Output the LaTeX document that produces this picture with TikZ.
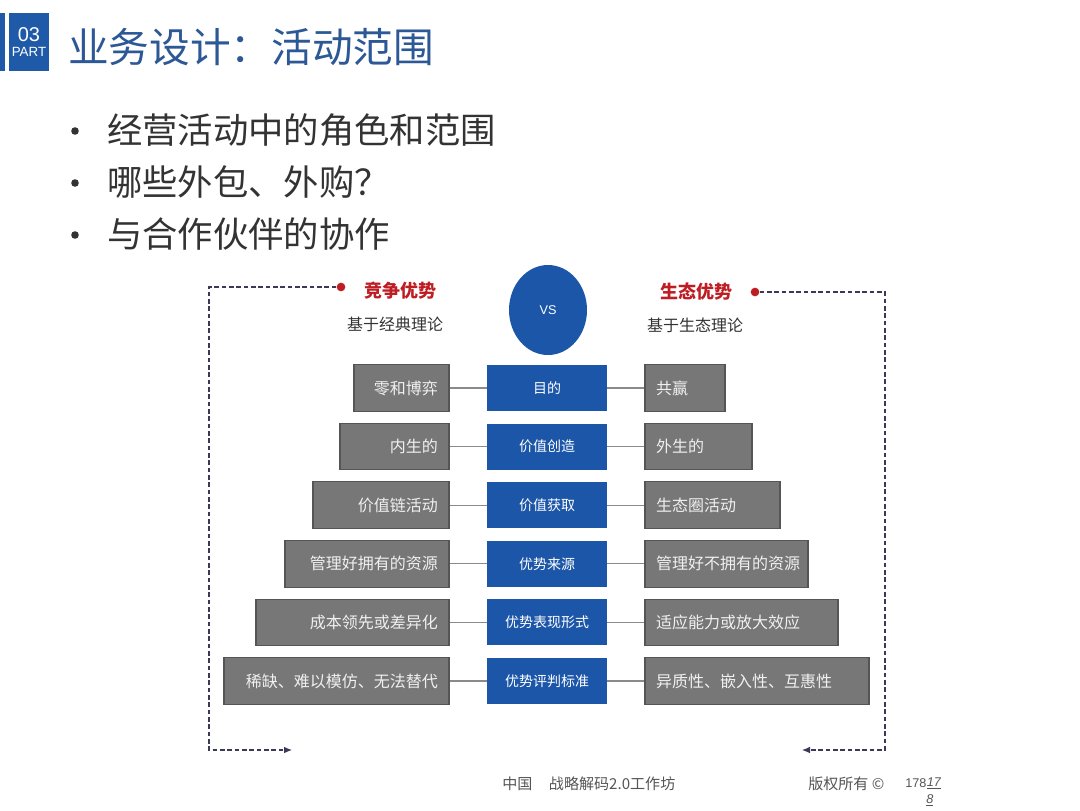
\documentclass[tikz,border=0pt]{standalone}
\usepackage{fontspec}
\setmainfont{Noto Sans CJK SC}
\newfontfamily\latinsans{Liberation Sans}
\usetikzlibrary{arrows.meta,shapes.geometric}
\definecolor{hdrblue}{HTML}{1F5AA8}
\definecolor{titleblue}{HTML}{2C5896}
\definecolor{boxblue}{HTML}{1C56A8}
\definecolor{boxgray}{HTML}{777777}
\definecolor{boxgrayline}{HTML}{555555}
\definecolor{boxtext}{HTML}{F0F0F0}
\definecolor{darkred}{HTML}{BE1E23}
\definecolor{dashcol}{HTML}{3A3A58}
\definecolor{bodytext}{HTML}{333333}
\definecolor{foottext}{HTML}{555555}
\definecolor{connline}{HTML}{8A8A8A}
\begin{document}
\begin{tikzpicture}[x=0.75pt,y=-0.75pt,
  graybox/.style={draw=boxgrayline,line width=0.8pt,fill=boxgray,text=boxtext,
    minimum height=35pt,inner xsep=8pt,inner ysep=0pt,font=\fontsize{12}{14}\selectfont},
  bluebox/.style={fill=boxblue,text=white,minimum width=90pt,minimum height=34.5pt,
    inner sep=0pt,font=\fontsize{10.5}{12}\selectfont},
  conn/.style={draw=connline,line width=0.8pt},
  dashline/.style={draw=dashcol,line width=0.8pt,dash pattern=on 3.5pt off 2pt},
  reddot/.style={circle,fill=darkred,minimum size=6.5pt,inner sep=0pt},
  headred/.style={text=darkred,font=\fontsize{13.5}{15}\selectfont\bfseries},
  subhead/.style={text=bodytext,font=\fontsize{12}{14}\selectfont},
  bullettext/.style={anchor=west,text=bodytext,inner sep=0pt,font=\fontsize{26.5}{30}\selectfont},
  foot/.style={anchor=west,text=foottext,inner sep=0pt,font=\fontsize{11.3}{13}\selectfont},
  pg/.style={anchor=west,text=foottext,inner sep=0pt,font=\latinsans\fontsize{9.5}{11}\selectfont}
]
\useasboundingbox (0,0) rectangle (1080,810);
\fill[white] (0,0) rectangle (1080,810);

% header
\fill[hdrblue] (0,13) rectangle (5,71);
\node[fill=hdrblue,minimum width=30pt,minimum height=43.5pt,inner sep=0pt,text=white,
  align=center,font=\latinsans] (part) at (29,42)
  {\fontsize{15}{15}\selectfont 03\\[-1pt]\fontsize{10}{10}\selectfont PART};
\node[anchor=west,inner sep=0pt,text=titleblue,font=\fontsize{30.5}{34}\selectfont] (title)
  at (68,47) {业务设计：活动范围};

% bullets
\foreach \y/\t [count=\k] in {130/经营活动中的角色和范围,182/哪些外包、外购？,234/与合作伙伴的协作}{
  \fill[bodytext] (75,\y+1) circle (3.8);
  \node[bullettext] (b\k) at (107,\y) {\t};
}

% dashed frames
\node[reddot] (cdot) at (341,287) {};
\node[reddot] (edot) at (755,292) {};
\coordinate (lc1) at (209,287);
\coordinate (lc2) at (209,750);
\coordinate (lend) at (292,750);
\coordinate (rc1) at (885,292);
\coordinate (rc2) at (885,750);
\coordinate (rend) at (802,750);
\draw[dashline,-{Latex[length=6pt,width=5pt]}] (cdot.west) -- (lc1) -- (lc2) -- (lend);
\draw[dashline,-{Latex[length=6pt,width=5pt]}] (edot.east) -- (rc1) -- (rc2) -- (rend);

% headings
\node[headred] (ca) at (400,291) {竞争优势};
\node[headred] (ea) at (696,292) {生态优势};
\node[subhead] (cs) at (395,324) {基于经典理论};
\node[subhead] (es) at (695,325) {基于生态理论};
\node[ellipse,fill=boxblue,minimum width=58.5pt,minimum height=67.5pt,inner sep=0pt,
  text=white,font=\latinsans\fontsize{9.5}{11}\selectfont] (vs) at (548,310) {VS};

% rows
\foreach \y/\L/\R/\lt/\ct/\rt [count=\i] in {
  388/354/725/零和博弈/目的/共赢,
  446.6/340/752/内生的/价值创造/外生的,
  505.2/313/780/价值链活动/价值获取/生态圈活动,
  563.8/285/808/管理好拥有的资源/优势来源/管理好不拥有的资源,
  622.4/256/838/成本领先或差异化/优势表现形式/适应能力或放大效应,
  681/224/869/稀缺、难以模仿、无法替代/优势评判标准/异质性、嵌入性、互惠性}{
  \pgfmathsetmacro\lw{(449-\L)*0.75}
  \pgfmathsetmacro\ltw{(449-\L)*0.75-16.8}
  \pgfmathsetmacro\lx{(449+\L)/2}
  \pgfmathsetmacro\rw{(\R-645)*0.75}
  \pgfmathsetmacro\rtw{(\R-645)*0.75-16.8}
  \pgfmathsetmacro\rx{(\R+645)/2}
  \node[graybox,minimum width=\lw pt,text width=\ltw pt,align=right] (l\i) at (\lx,\y) {\lt};
  \node[bluebox] (c\i) at (547,\y) {\ct};
  \node[graybox,minimum width=\rw pt,text width=\rtw pt,align=left] (r\i) at (\rx,\y) {\rt};
  \draw[conn] (l\i.east) -- (c\i.west);
  \draw[conn] (c\i.east) -- (r\i.west);
}

% footer
\node[foot] (f1) at (502,784) {中国\hspace{1.1em}战略解码2.0工作坊};
\node[foot] (f2) at (808,784) {版权所有 ©};
\node[pg] (pg1) at (905,783) {178};
\node[pg] (pg2) at (pg1.east) {\textit{\underline{17}}};
\node[pg] (pg3) at (926,800) {\textit{\underline{8}}};
\end{tikzpicture}
\end{document}
